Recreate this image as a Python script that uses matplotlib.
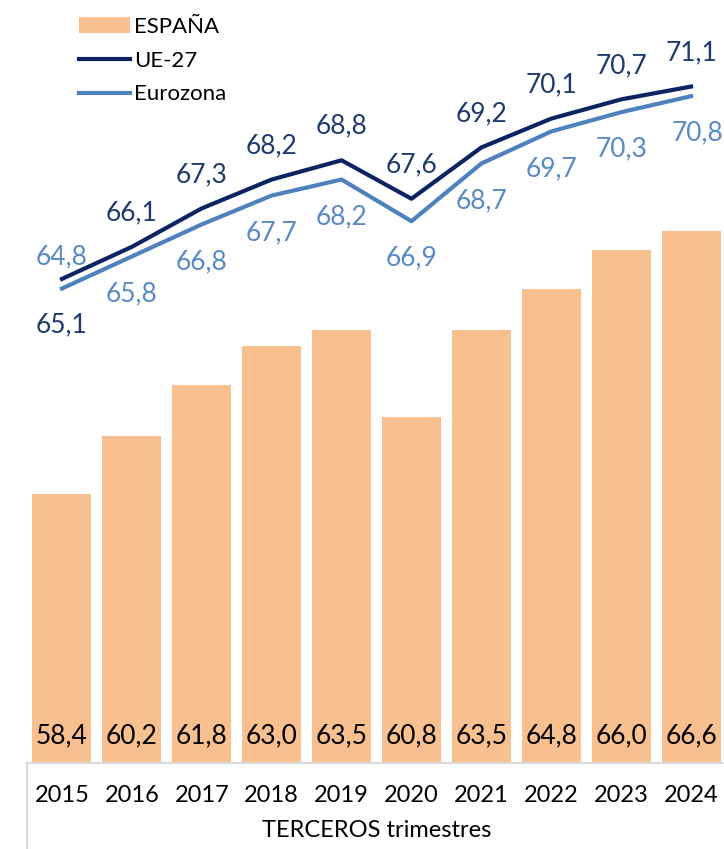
import matplotlib
matplotlib.use("Agg")
import matplotlib.pyplot as plt
from matplotlib.lines import Line2D

# data
years = ["2015", "2016", "2017", "2018", "2019", "2020", "2021", "2022", "2023", "2024"]
espana = [58.4, 60.2, 61.8, 63.0, 63.5, 60.8, 63.5, 64.8, 66.0, 66.6]
ue27 = [65.1, 66.1, 67.3, 68.2, 68.8, 67.6, 69.2, 70.1, 70.7, 71.1]
eurozona = [64.8, 65.8, 66.8, 67.7, 68.2, 66.9, 68.7, 69.7, 70.3, 70.8]

BAR_COLOR = "#F9C08F"
UE_COLOR = "#0C2461"
UE_LABEL = "#1F3B6E"
EZ_COLOR = "#4F81BD"
EZ_LABEL = "#5A8AC6"

plt.rcParams["font.family"] = ["Lato", "DejaVu Sans"]


def fmt(v):
    return f"{v:.1f}".replace(".", ",")


fig = plt.figure(figsize=(7.24, 8.49), dpi=100)
ax = fig.add_axes([27 / 724, 86 / 849, 699 / 724, 763 / 849])

x = list(range(len(years)))
bars = ax.bar(x, espana, width=0.845, bottom=0, color=BAR_COLOR, label="ESPAÑA", zorder=1)
l_ue, = ax.plot(x, ue27, color=UE_COLOR, lw=3, label="UE-27", zorder=3)
l_ez, = ax.plot(x, eurozona, color=EZ_COLOR, lw=3, label="Eurozona", zorder=2)

ax.set_ylim(50, 73.8)
ax.set_xlim(-0.5, 9.5)

# bar labels
for xi, v in zip(x, espana):
    ax.annotate(fmt(v), (xi, 50), xytext=(0, 27), textcoords="offset pixels",
                ha="center", va="center", fontsize=19, color="black")

# line labels
for i, v in enumerate(ue27):
    off = -46 if i == 0 else 34
    ax.annotate(fmt(v), (i, v), xytext=(0, off), textcoords="offset pixels",
                ha="center", va="center", fontsize=19, color=UE_LABEL)
for i, v in enumerate(eurozona):
    off = 32 if i == 0 else -37
    dx = 6 if i == 9 else 0
    ax.annotate(fmt(v), (i, v), xytext=(dx, off), textcoords="offset pixels",
                ha="center", va="center", fontsize=19, color=EZ_LABEL)

ax.set_xticks(x)
ax.set_xticklabels(years, fontsize=17)
ax.tick_params(axis="x", length=0, pad=16)
ax.set_yticks([])
for s in ["top", "right", "left"]:
    ax.spines[s].set_visible(False)
ax.spines["bottom"].set_color("#D9D9D9")
ax.spines["bottom"].set_linewidth(1.5)
ax.add_line(Line2D([0, 0], [0, -0.12], transform=ax.transAxes, color="#D9D9D9",
                   lw=1.5, clip_on=False))
ax.set_xlabel("TERCEROS trimestres", fontsize=17, labelpad=10)

leg = ax.legend([bars, l_ue, l_ez], ["ESPAÑA", "UE-27", "Eurozona"],
                loc="upper left", bbox_to_anchor=(70 / 724, 1 - 8 / 849),
                bbox_transform=fig.transFigure, frameon=False, fontsize=16,
                handlelength=2.3, handleheight=0.7, handletextpad=0.2,
                labelspacing=0.62, borderaxespad=0)

fig.savefig("out.png", dpi=100)
